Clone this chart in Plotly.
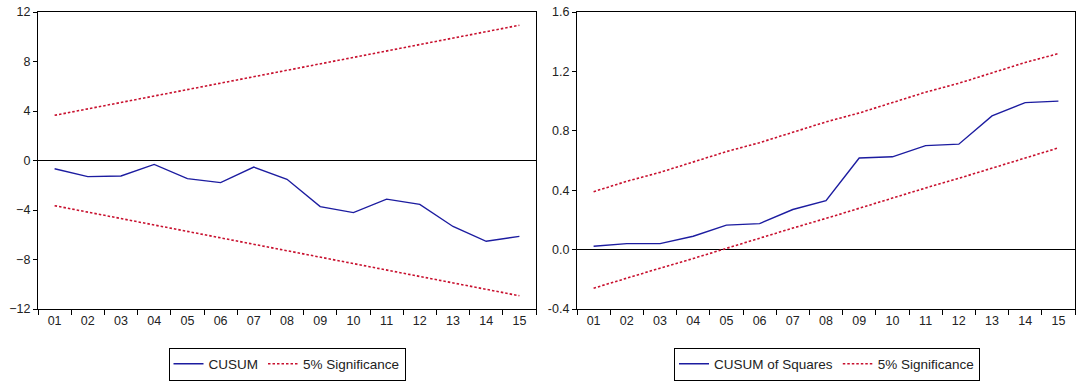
import plotly.graph_objects as go

periods = ["01", "02", "03", "04", "05", "06", "07", "08", "09", "10", "11", "12", "13", "14", "15"]

cusum = [-0.67, -1.3, -1.25, -0.32, -1.47, -1.79, -0.53, -1.52, -3.73, -4.21, -3.12, -3.55, -5.33, -6.53, -6.13]
cusum_upper = [3.65, 4.17, 4.69, 5.21, 5.73, 6.25, 6.77, 7.29, 7.81, 8.33, 8.85, 9.37, 9.89, 10.41, 10.93]
cusum_lower = [-3.65, -4.17, -4.69, -5.21, -5.73, -6.25, -6.77, -7.29, -7.81, -8.33, -8.85, -9.37, -9.89, -10.41, -10.93]

cusumsq = [0.023, 0.04, 0.04, 0.09, 0.165, 0.175, 0.27, 0.33, 0.617, 0.625, 0.70, 0.71, 0.90, 0.99, 1.0]
cusumsq_upper = [0.39, 0.46, 0.52, 0.59, 0.66, 0.72, 0.79, 0.86, 0.92, 0.99, 1.06, 1.12, 1.19, 1.26, 1.32]
cusumsq_lower = [-0.26, -0.19, -0.125, -0.06, 0.01, 0.08, 0.145, 0.21, 0.28, 0.35, 0.415, 0.48, 0.55, 0.62, 0.685]

left_yticks = [-12, -8, -4, 0, 4, 8, 12]
right_yticks = [-0.4, 0.0, 0.4, 0.8, 1.2, 1.6]
right_yticklabels = ["-0.4", "0.0", "0.4", "0.8", "1.2", "1.6"]

BLUE = "#1c1ca0"
RED = "#c8102e"
W, H = 1084, 383
FONT = "Liberation Sans, Arial, sans-serif"
DASH = "2.5px,2px"

fig = go.Figure()

# Left panel
fig.add_trace(go.Scatter(x=periods, y=cusum, mode="lines", name="CUSUM",
                         line=dict(color=BLUE, width=1.4), xaxis="x", yaxis="y", legend="legend"))
fig.add_trace(go.Scatter(x=periods, y=cusum_upper, mode="lines", name="5% Significance",
                         line=dict(color=RED, width=1.6, dash=DASH), legendgroup="s1",
                         xaxis="x", yaxis="y", legend="legend"))
fig.add_trace(go.Scatter(x=periods, y=cusum_lower, mode="lines", name="5% Significance",
                         line=dict(color=RED, width=1.6, dash=DASH), legendgroup="s1", showlegend=False,
                         xaxis="x", yaxis="y", legend="legend"))

# Right panel
fig.add_trace(go.Scatter(x=periods, y=cusumsq, mode="lines", name="CUSUM of Squares",
                         line=dict(color=BLUE, width=1.4), xaxis="x2", yaxis="y2", legend="legend2"))
fig.add_trace(go.Scatter(x=periods, y=cusumsq_upper, mode="lines", name="5% Significance",
                         line=dict(color=RED, width=1.6, dash=DASH), legendgroup="s2",
                         xaxis="x2", yaxis="y2", legend="legend2"))
fig.add_trace(go.Scatter(x=periods, y=cusumsq_lower, mode="lines", name="5% Significance",
                         line=dict(color=RED, width=1.6, dash=DASH), legendgroup="s2", showlegend=False,
                         xaxis="x2", yaxis="y2", legend="legend2"))

ydom = [1 - 309 / H, 1 - 12 / H]

xcommon = dict(type="category", tickson="boundaries", ticks="outside", ticklen=5, tickcolor="black",
               range=[-0.5, 14.5], autorange=False, automargin=False,
               showline=True, linecolor="black", linewidth=1.3, mirror=True, showgrid=False,
               zeroline=False, tickfont=dict(size=12.5, color="#222", family=FONT), fixedrange=True)
ycommon = dict(ticks="outside", ticklen=4, tickcolor="black", showline=True, linecolor="black",
               linewidth=1.3, mirror=True, showgrid=False, zeroline=True, zerolinecolor="black",
               zerolinewidth=1.3, automargin=False, autorange=False,
               tickfont=dict(size=12.5, color="#222", family=FONT))

fig.update_layout(
    width=W, height=H,
    margin=dict(l=0, r=0, t=0, b=0, autoexpand=False),
    paper_bgcolor="white", plot_bgcolor="white",
    font=dict(family=FONT, size=12, color="#222"),
    xaxis=dict(domain=[38 / W, 536 / W], anchor="y", **xcommon),
    yaxis=dict(domain=ydom, anchor="x", range=[-12, 12], tickvals=left_yticks, **ycommon),
    xaxis2=dict(domain=[577 / W, 1075 / W], anchor="y2", **xcommon),
    yaxis2=dict(domain=ydom, anchor="x2", range=[-0.4, 1.6], tickvals=right_yticks,
                ticktext=right_yticklabels, **ycommon),
    legend=dict(orientation="h", x=287 / W, y=1 - 364 / H, xanchor="center", yanchor="middle",
                bordercolor="black", borderwidth=1, bgcolor="white",
                font=dict(size=13.5, family=FONT, color="#222"), itemwidth=30, tracegroupgap=0),
    legend2=dict(orientation="h", x=827 / W, y=1 - 364 / H, xanchor="center", yanchor="middle",
                 bordercolor="black", borderwidth=1, bgcolor="white",
                 font=dict(size=13.5, family=FONT, color="#222"), itemwidth=30, tracegroupgap=0),
)

fig.write_html("out.html", config={"displayModeBar": False},
               post_script="document.body.style.margin='0';document.body.style.padding='0';document.body.style.overflow='hidden';")
